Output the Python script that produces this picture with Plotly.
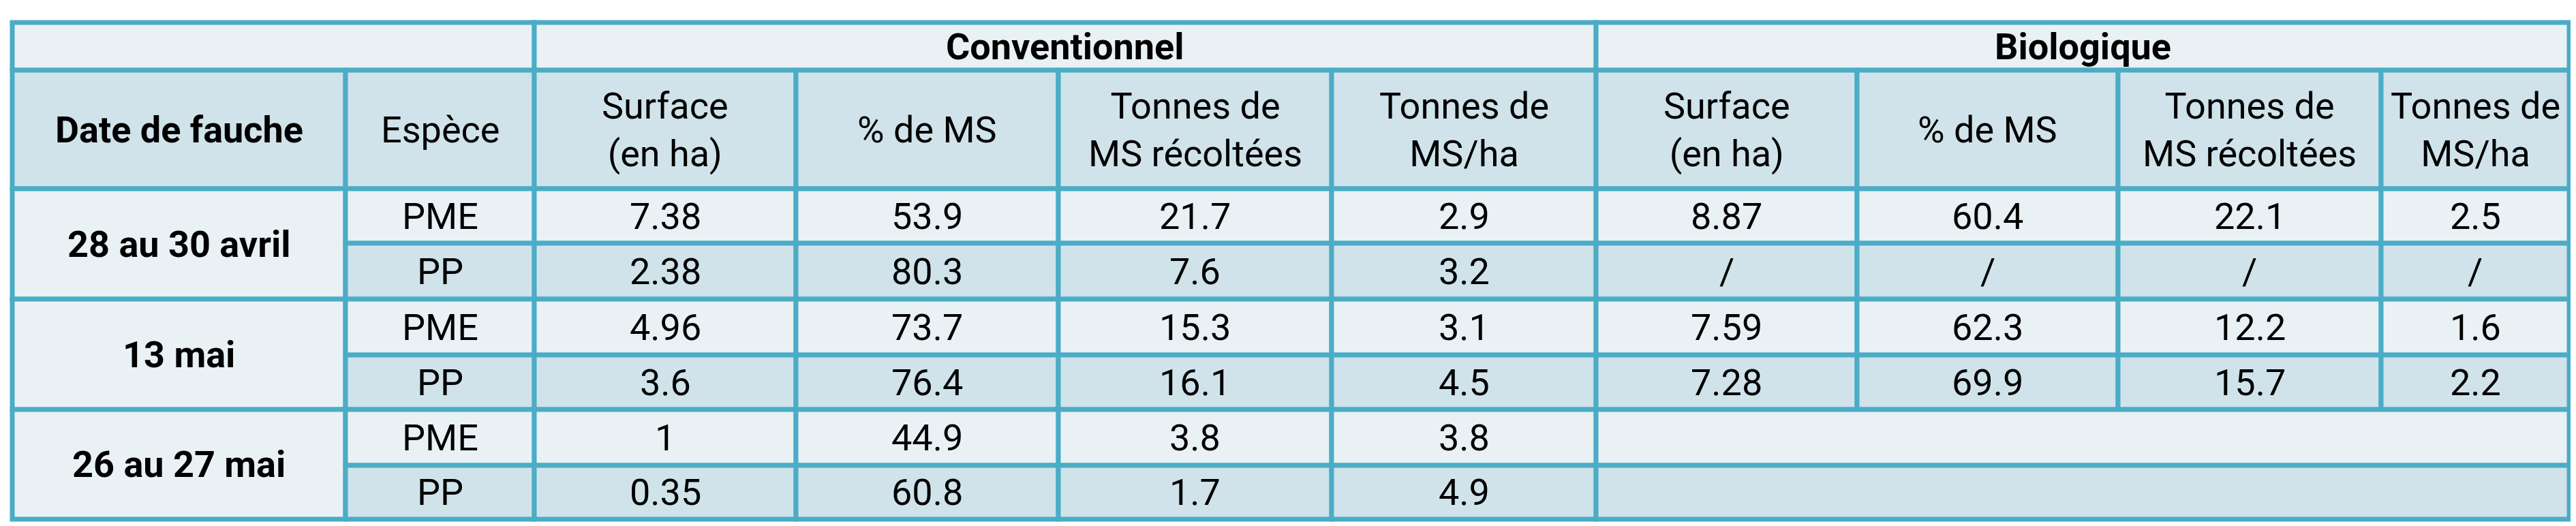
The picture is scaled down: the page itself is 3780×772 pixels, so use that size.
import plotly.graph_objects as go

# column edges / row edges of the table grid (pixel space)
col_edges = [10, 499, 776, 1160, 1545, 1946, 2334, 2717, 3100, 3486, 3762]
row_edges = [25, 95, 269, 349, 431, 513, 593, 675, 754]

groups = ["Conventionnel", "Biologique"]
headers = ["Date de fauche", "Espèce",
           "Surface<br>(en ha)", "% de MS", "Tonnes de<br>MS récoltées", "Tonnes de<br>MS/ha",
           "Surface<br>(en ha)", "% de MS", "Tonnes de<br>MS récoltées", "Tonnes de<br>MS/ha"]
dates = ["28 au 30 avril", "13 mai", "26 au 27 mai"]
especes = ["PME", "PP", "PME", "PP", "PME", "PP"]
conv = [["7.38", "53.9", "21.7", "2.9"],
        ["2.38", "80.3", "7.6", "3.2"],
        ["4.96", "73.7", "15.3", "3.1"],
        ["3.6", "76.4", "16.1", "4.5"],
        ["1", "44.9", "3.8", "3.8"],
        ["0.35", "60.8", "1.7", "4.9"]]
bio = [["8.87", "60.4", "22.1", "2.5"],
       ["/", "/", "/", "/"],
       ["7.59", "62.3", "12.2", "1.6"],
       ["7.28", "69.9", "15.7", "2.2"],
       ["", "", "", ""],
       ["", "", "", ""]]

LIGHT = "#e9f1f5"
DARK = "#d0e3eb"
LINE = "#4bacc6"
FONT = "Liberation Sans Narrow, Roboto, Noto Sans"
FS = 54

shapes = []
ann = []

def cell(c0, c1, r0, r1, fill, text="", bold=False):
    x0, x1 = col_edges[c0], col_edges[c1]
    y0, y1 = row_edges[r0], row_edges[r1]
    shapes.append(dict(type="rect", xref="x", yref="y", x0=x0, x1=x1, y0=y0, y1=y1,
                       fillcolor=fill, line=dict(color=LINE, width=7), layer="below"))
    if text:
        ann.append(dict(x=(x0 + x1) / 2, y=(y0 + y1) / 2, xref="x", yref="y",
                        text=f"<b>{text}</b>" if bold else text, showarrow=False,
                        font=dict(family=FONT, size=FS, color="black")))

# group header row
cell(0, 2, 0, 1, LIGHT)
cell(2, 6, 0, 1, LIGHT, groups[0], True)
cell(6, 10, 0, 1, LIGHT, groups[1], True)
# column header row
for i, h in enumerate(headers):
    cell(i, i + 1, 1, 2, DARK, h, bold=(i == 0))
# body
for d, name in enumerate(dates):
    cell(0, 1, 2 + 2 * d, 4 + 2 * d, LIGHT, name, True)
for r in range(6):
    fill = LIGHT if r % 2 == 0 else DARK
    cell(1, 2, 2 + r, 3 + r, fill, especes[r])
    for j, v in enumerate(conv[r]):
        cell(2 + j, 3 + j, 2 + r, 3 + r, fill, v)
    if r < 4:
        for j, v in enumerate(bio[r]):
            cell(6 + j, 7 + j, 2 + r, 3 + r, fill, v)
    else:
        cell(6, 10, 2 + r, 3 + r, fill)

fig = go.Figure()
fig.update_layout(width=3780, height=772, margin=dict(l=0, r=0, t=0, b=0),
                  plot_bgcolor="white", paper_bgcolor="white",
                  shapes=shapes, annotations=ann, showlegend=False,
                  xaxis=dict(range=[0, 3780], visible=False, fixedrange=True),
                  yaxis=dict(range=[772, 0], visible=False, fixedrange=True))
fig.write_html("out.html")
